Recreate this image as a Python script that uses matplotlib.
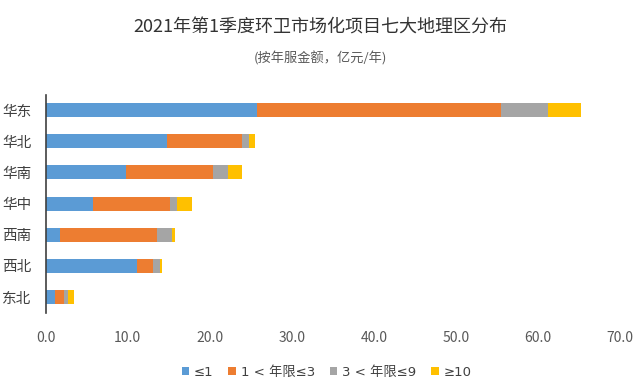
import matplotlib
matplotlib.use('Agg')
import numpy as np
import matplotlib.pyplot as plt
from matplotlib.font_manager import FontProperties

plt.rcParams['font.family'] = ['Noto Sans CJK SC', 'DejaVu Sans']

# 七大地理区，自上而下
regions = ['华东', '华北', '华南', '华中', '西南', '西北', '东北']
# 各年限区间的年服务金额（亿元/年）
le1 = [25.8, 14.8, 9.8, 5.8, 1.8, 11.1, 1.2]
y1_3 = [29.7, 9.2, 10.6, 9.4, 11.8, 2.0, 1.05]
y3_9 = [5.7, 0.8, 1.8, 0.8, 1.8, 0.8, 0.55]
ge10 = [4.0, 0.7, 1.8, 1.9, 0.4, 0.25, 0.7]

series = [
    ('≤1', le1, '#5B9BD5'),
    ('1 < 年限≤3', y1_3, '#ED7D31'),
    ('3 < 年限≤9', y3_9, '#A5A5A5'),
    ('≥10', ge10, '#FFC000'),
]
xticks = [0, 10, 20, 30, 40, 50, 60, 70]

fig = plt.figure(figsize=(6.4, 3.83), dpi=100)
ax = fig.add_axes([45.5 / 640, 1 - 312.6 / 383, (620 - 45.5) / 640, 218 / 383])

ypos = np.arange(len(regions))
left = np.zeros(len(regions))
for name, vals, color in series:
    vals = np.array(vals)
    ax.barh(ypos, vals, left=left, height=0.45, color=color, label=name)
    left += vals

ax.set_xlim(0, 70)
ax.set_ylim(len(regions) - 0.5, -0.5)
ax.set_yticks(ypos)
ax.set_yticklabels(regions, fontsize=10.5, color='#404040', fontweight='medium')
ax.set_xticks(xticks)
ax.set_xticklabels([f'{v:.1f}' for v in xticks], fontsize=10, color='#595959')
ax.tick_params(length=0)
ax.tick_params(axis='x', pad=13)
ax.tick_params(axis='y', pad=10)
for s in ['top', 'right', 'bottom']:
    ax.spines[s].set_visible(False)
ax.spines['left'].set_color('#404040')
ax.spines['left'].set_linewidth(1.2)

fig.text(0.5, 1 - 28 / 383, '2021年第1季度环卫市场化项目七大地理区分布',
         ha='center', va='center', fontsize=13, color='#333333')
fig.text(0.5, 1 - 58 / 383, '(按年服金额，亿元/年)',
         ha='center', va='center', fontsize=9.5, color='#595959')

leg_font = FontProperties(family=['DejaVu Sans', 'Noto Sans CJK SC'], size=9.5)
fig.legend(loc='center', bbox_to_anchor=(0.51, 1 - 372 / 383), ncol=4,
           frameon=False, prop=leg_font, handlelength=0.6, handleheight=0.6,
           handletextpad=0.35, columnspacing=1.1, labelcolor='#404040')

fig.savefig('out.png', dpi=100)
